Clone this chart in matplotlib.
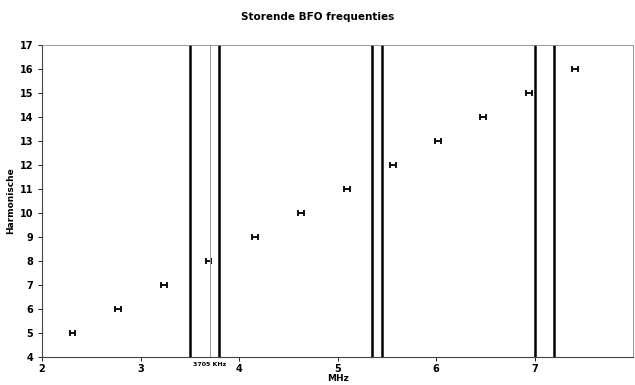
"""
Storende BFO frequenties: harmonischen van de BFO t.o.v. de amateurbanden
"""

import matplotlib.pyplot as plt

harmonische = [5, 6, 7, 8, 9, 10, 11, 12, 13, 14, 15, 16]
freq_mhz = [2.31, 2.77, 3.24, 3.69, 4.16, 4.63, 5.10, 5.56, 6.02, 6.48, 6.94, 7.41]
fout_mhz = [0.03] * len(freq_mhz)

band_randen = [3.5, 3.8, 5.35, 5.45, 7.0, 7.2]
marker_freq = 3.705
marker_label = "3705 KHz"

fig = plt.figure(figsize=(6.35, 3.85), dpi=100)
ax = fig.add_axes([42 / 635, 28 / 385, 591 / 635, 312 / 385])

ax.errorbar(freq_mhz, harmonische, xerr=fout_mhz, fmt="none",
            ecolor="black", elinewidth=1.3, capsize=2.5, capthick=1.3)

for x in band_randen:
    ax.axvline(x, color="black", linewidth=1.8)
ax.axvline(marker_freq, color="#999999", linewidth=0.7)

ax.set_xlim(2, 8)
ax.set_ylim(4, 17)
ax.set_xticks([2, 3, 4, 5, 6, 7])
ax.set_yticks(range(4, 18))
ax.tick_params(axis="both", labelsize=7, length=3, width=0.6)
ax.tick_params(axis="x", pad=2)
for lbl in ax.get_xticklabels() + ax.get_yticklabels():
    lbl.set_fontweight("bold")

ax.text(marker_freq, 3.8, marker_label, fontsize=4.5, ha="center", va="top",
        fontweight="bold")

for s in ["top", "right"]:
    ax.spines[s].set_color("#888888")
    ax.spines[s].set_linewidth(0.6)
for s in ["left", "bottom"]:
    ax.spines[s].set_color("#444444")
    ax.spines[s].set_linewidth(0.8)

ax.set_xlabel("MHz", fontsize=6.5, fontweight="bold", labelpad=0)
ax.set_ylabel("Harmonische", fontsize=6.5, fontweight="bold", labelpad=3)
fig.text(0.5, 1 - 17 / 385, "Storende BFO frequenties", ha="center", va="center",
         fontsize=7.5, fontweight="bold")

fig.savefig("out.png", dpi=100)
